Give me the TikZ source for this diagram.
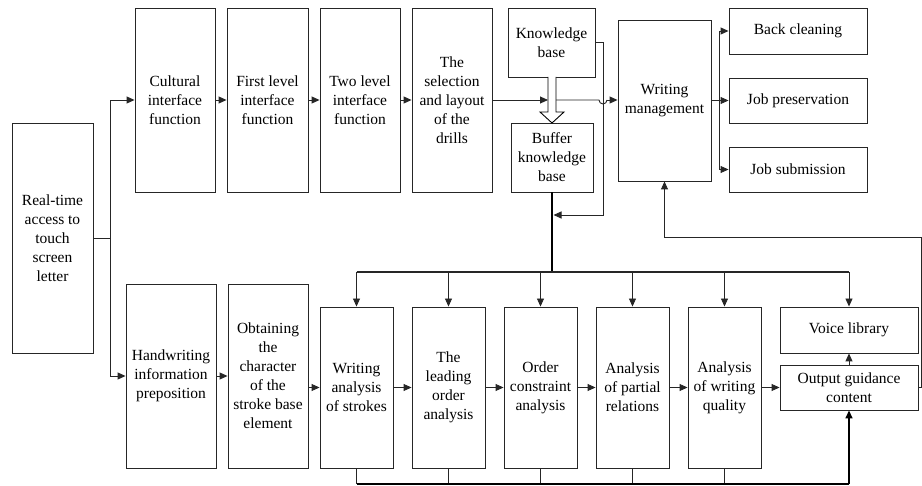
\documentclass[tikz,border=0pt]{standalone}
\usepackage{fontspec}
\setmainfont{Liberation Serif}
\usetikzlibrary{arrows.meta}
\begin{document}
\begin{tikzpicture}[x=1pt,y=-1pt,
  box/.style={draw=black!85,line width=0.9pt,rectangle,align=center,inner sep=1pt,
    font=\fontsize{15.5}{19}\selectfont},
  conn/.style={line width=0.9pt,draw=black!85},
  thick conn/.style={line width=1.8pt,draw=black},
  arr/.style={-{Triangle[length=8pt,width=7pt]}},
]
\useasboundingbox (0,0) rectangle (922,486);
% top row
\node[box,minimum width=81,minimum height=230] (rt) at (52.5,238) {Real-time\\access to\\touch\\screen\\letter};
\node[box,minimum width=80,minimum height=184] (cul) at (175,100) {Cultural\\interface\\function};
\node[box,minimum width=81,minimum height=184] (fl) at (267.5,100) {First level\\interface\\function};
\node[box,minimum width=80,minimum height=184] (tl) at (360,100) {Two level\\interface\\function};
\node[box,minimum width=80,minimum height=184] (sel) at (452,100) {The\\selection\\and layout\\of the\\drills};
\node[box,minimum width=87,minimum height=69] (kb) at (551.5,42.5) {Knowledge\\base};
\node[box,minimum width=82,minimum height=69] (buf) at (552,157.5) {Buffer\\knowledge\\base};
\node[box,minimum width=93,minimum height=161] (wm) at (664.5,100.5) {Writing\\management};
\node[box,minimum width=138,minimum height=46] (bc) at (798,31) {Back cleaning};
\node[box,minimum width=138,minimum height=45] (jp) at (798,100.5) {Job preservation};
\node[box,minimum width=138,minimum height=45] (js) at (798,169.5) {Job submission};
% bottom row
\node[box,minimum width=90,minimum height=184] (hw) at (171,376) {Handwriting\\information\\preposition};
\node[box,minimum width=80,minimum height=184] (ob) at (268,376) {Obtaining\\the\\character\\of the\\stroke base\\element};
\node[box,minimum width=73,minimum height=161] (wa) at (356.5,387.5) {Writing\\analysis\\of strokes};
\node[box,minimum width=73,minimum height=161] (lo) at (448.5,387.5) {The\\leading\\order\\analysis};
\node[box,minimum width=73,minimum height=161] (oc) at (540.5,387.5) {Order\\constraint\\analysis};
\node[box,minimum width=73,minimum height=161] (pr) at (632.5,387.5) {Analysis\\of partial\\relations};
\node[box,minimum width=73,minimum height=161] (wq) at (724.5,387.5) {Analysis\\of writing\\quality};
\node[box,minimum width=138,minimum height=46] (vl) at (849,330) {Voice library};
\node[box,minimum width=138,minimum height=45] (og) at (849,387.5) {Output guidance\\content};
% coordinates
\coordinate (split) at (110,238);
\coordinate (sTop) at (110,100);
\coordinate (sBot) at (110,376);
\coordinate (shL) at (548,100);
\coordinate (shR) at (556,100);
\coordinate (hopA) at (599,100);
\coordinate (kbR) at (603,42.5);
\coordinate (kbD) at (603,215);
\coordinate (kbIn) at (553.5,215);
\coordinate (stem) at (552,272);
\coordinate (busL) at (356.5,272);
\coordinate (busR) at (849,272);
\coordinate (wmS) at (719,100.5);
\coordinate (wmT) at (719,31);
\coordinate (wmB) at (719,169.5);
\coordinate (rA) at (921,387.5);
\coordinate (rB) at (921,237);
\coordinate (rC) at (664.5,237);
\coordinate (bL) at (356.5,484);
\coordinate (bR) at (849,484);
% left split
\draw[conn] (rt.east |- split) -- (split);
\draw[conn,arr] (split) -- (sTop) -- (cul.west |- sTop);
\draw[conn,arr] (split) -- (sBot) -- (hw.west |- sBot);
% top chain
\draw[conn,arr] (cul.east) -- (fl.west);
\draw[conn,arr] (fl.east) -- (tl.west);
\draw[conn,arr] (tl.east) -- (sel.west);
\draw[conn,arr] (sel.east) -- (shL);
\draw[conn] (shR) -- (hopA) arc[start angle=180,end angle=0,radius=4] coordinate (hopB);
\draw[conn,arr] (hopB) -- (wm.west |- hopB);
% hollow arrow
\draw[line width=0.9pt,fill=white] (548,77) -- (548,112) -- (540,112) -- (552,123) -- (564,112) -- (556,112) -- (556,77);
% kb feedback
\draw[conn,arr] (kb.east |- kbR) -- (kbR) -- (kbD) -- (kbIn);
% stem and bus
\draw[thick conn] (buf.south) -- (stem);
\draw[conn,line width=1.2pt] (busL) -- (busR);
\foreach \n in {wa,lo,oc,pr,wq,vl}{
  \draw[conn,arr] (\n.north |- busL) -- (\n.north);
}
% wm branches
\draw[conn] (wm.east |- wmS) -- (wmS);
\draw[conn] (wmT) -- (wmB);
\draw[conn,arr] (wmT) -- (bc.west);
\draw[conn,arr] (wmS) -- (jp.west);
\draw[conn,arr] (wmB) -- (js.west);
% bottom chain
\draw[conn,arr] (hw.east) -- (ob.west |- hw.east);
\draw[conn,arr] (ob.east |- wa.west) -- (wa.west);
\draw[conn,arr] (wa.east) -- (lo.west);
\draw[conn,arr] (lo.east) -- (oc.west);
\draw[conn,arr] (oc.east) -- (pr.west);
\draw[conn,arr] (pr.east) -- (wq.west);
\draw[conn,arr] (wq.east) -- (og.west);
\draw[conn,arr] (og.north) -- (vl.south);
% feedback to wm
\draw[conn,arr] (og.east) -- (rA) -- (rB) -- (rC) -- (wm.south);
% bottom bus
\foreach \n in {wa,lo,oc,pr,wq}{
  \draw[conn] (\n.south) -- (\n.south |- bL);
}
\draw[thick conn,line width=1.5pt] (bL) -- (bR);
\draw[thick conn,line width=1.5pt,-{Triangle[length=8pt,width=7pt]}] (bR) -- (og.south);
\end{tikzpicture}
\end{document}
